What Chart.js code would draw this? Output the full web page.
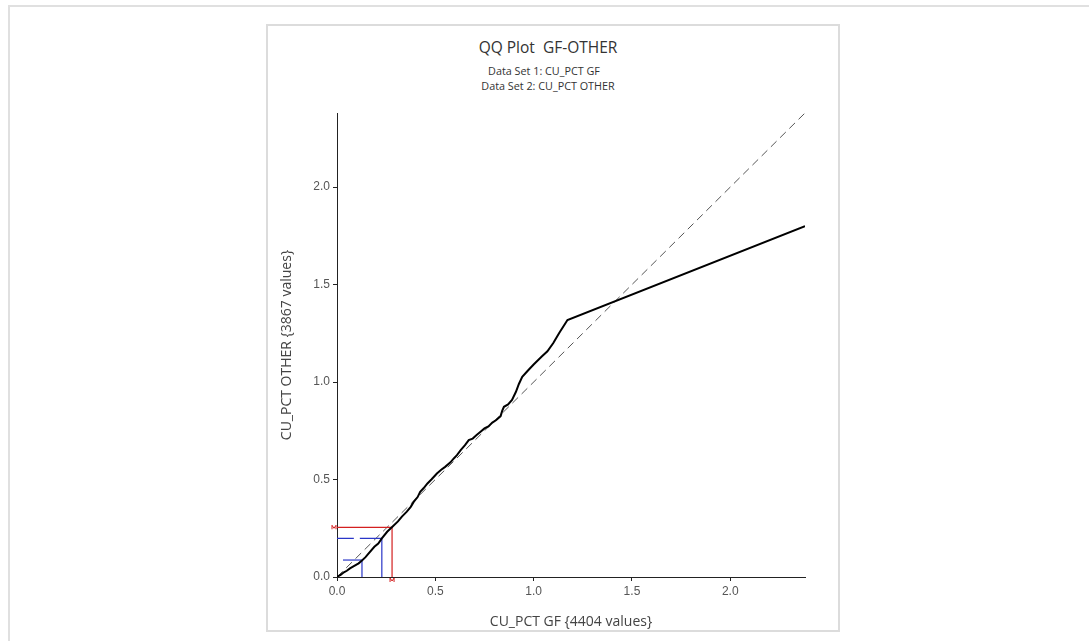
<!DOCTYPE html>
<html>
<head>
<meta charset="utf-8">
<script src="https://cdn.jsdelivr.net/npm/chart.js@4/dist/chart.umd.min.js"></script>
<style>
  html, body { margin: 0; padding: 0; background: #fff; width: 1089px; height: 641px; overflow: hidden; }
  #frameTop { position: absolute; left: 9px; top: 5px; width: 1080px; height: 0; border-top: 2px solid #e0e0e0; }
  #frameLeft { position: absolute; left: 8px; top: 5px; width: 0; height: 636px; border-left: 2px solid #e0e0e0; }
  #panel { position: absolute; left: 266px; top: 24px; width: 570px; height: 604px; border: 2px solid #dcdcdc; }
  .t { position: absolute; left: 266px; width: 572px; text-align: center; font-family: "Open Sans", sans-serif; color: #333; white-space: pre; }
  #title { top: 36px; font-size: 15.5px; left: 262px; }
  #sub1 { top: 63px; font-size: 10.8px; left: 258px; }
  #sub2 { top: 78px; font-size: 10.8px; left: 262px; }
  canvas { position: absolute; left: 0; top: 0; }
</style>
</head>
<body>
<div id="frameTop"></div>
<div id="frameLeft"></div>
<div id="panel"></div>
<div class="t" id="title">QQ Plot  GF-OTHER</div>
<div class="t" id="sub1">Data Set 1: CU_PCT GF</div>
<div class="t" id="sub2">Data Set 2: CU_PCT OTHER</div>
<canvas id="c" width="1089" height="641"></canvas>
<script>
// Quantiles of CU_PCT GF (x) vs CU_PCT OTHER (y)
const qqX = [0, 0.02, 0.035, 0.05, 0.066, 0.09, 0.11, 0.127, 0.145, 0.16, 0.19, 0.21, 0.228, 0.255, 0.279, 0.31, 0.33, 0.355, 0.375, 0.39, 0.41, 0.423, 0.44, 0.46, 0.48, 0.508, 0.53, 0.55, 0.577, 0.594, 0.61, 0.63, 0.65, 0.67, 0.69, 0.71, 0.73, 0.75, 0.77, 0.79, 0.81, 0.832, 0.84, 0.849, 0.87, 0.89, 0.91, 0.925, 0.942, 0.97, 1.0, 1.04, 1.07, 1.10, 1.13, 1.172, 2.38];
const qqY = [0, 0.012, 0.024, 0.032, 0.044, 0.058, 0.07, 0.085, 0.102, 0.12, 0.155, 0.172, 0.198, 0.232, 0.255, 0.285, 0.31, 0.335, 0.36, 0.385, 0.41, 0.437, 0.455, 0.48, 0.5, 0.531, 0.55, 0.565, 0.588, 0.608, 0.625, 0.652, 0.675, 0.702, 0.71, 0.728, 0.745, 0.762, 0.772, 0.792, 0.805, 0.825, 0.852, 0.873, 0.885, 0.908, 0.95, 0.99, 1.027, 1.058, 1.09, 1.13, 1.158, 1.2, 1.252, 1.318, 1.80];
const refX = [0, 2.38];
const refY = [0, 2.38];
// Red marker lines (upper quantile)
const redX = [0.28, 0.28];
const redY = [0.255, 0.255];
// Blue dashed marker lines
const blueX = [0.228, 0.127];
const blueY = [0.198, 0.087];
const axisMax = 2.38;
const tickValues = [0, 0.5, 1.0, 1.5, 2.0];

const pts = (xs, ys) => xs.map((x, i) => ({ x: x, y: ys[i] }));

const datasets = [
  { data: pts(refX, refY), borderColor: '#555', borderWidth: 1, borderDash: [8, 5], pointRadius: 0, order: 3 },
  { data: [{ x: 0, y: redY[0] }, { x: redX[0], y: redY[0] }, { x: redX[0], y: 0 }], borderColor: '#d42020', borderWidth: 1.2, pointRadius: 0, order: 2 },
  { data: [{ x: blueX[0], y: blueY[0] }, { x: 0, y: blueY[0] }], borderColor: '#2a36c8', borderWidth: 1.2, borderDash: [22, 6], pointRadius: 0, order: 2 },
  { data: [{ x: blueX[0], y: blueY[0] }, { x: blueX[0], y: 0 }], borderColor: '#2a36c8', borderWidth: 1.2, pointRadius: 0, order: 2 },
  { data: [{ x: blueX[1], y: blueY[1] }, { x: 0, y: blueY[1] }], borderColor: '#2a36c8', borderWidth: 1.2, borderDash: [19, 6], pointRadius: 0, order: 2 },
  { data: [{ x: blueX[1], y: blueY[1] }, { x: blueX[1], y: 0 }], borderColor: '#2a36c8', borderWidth: 1.2, pointRadius: 0, order: 2 },
  { data: pts(qqX, qqY), borderColor: '#000', borderWidth: 2, pointRadius: 0, tension: 0, order: 1 }
];

const markers = {
  id: 'markers',
  afterDatasetsDraw(chart) {
    const { ctx, scales } = chart;
    const xs = scales.x, ys = scales.y;
    ctx.save();
    ctx.strokeStyle = '#d42020';
    ctx.lineWidth = 1;
    const my = ys.getPixelForValue(redY[0]);
    const lx = xs.getPixelForValue(0) - 5;
    ctx.beginPath();
    ctx.moveTo(lx, my + 2); ctx.lineTo(lx, my - 2); ctx.lineTo(lx + 2, my + 1); ctx.lineTo(lx + 4, my - 2); ctx.lineTo(lx + 4, my + 2);
    ctx.stroke();
    const mx = xs.getPixelForValue(redX[0]);
    const by = ys.getPixelForValue(0) + 1;
    ctx.beginPath();
    ctx.moveTo(mx - 2, by + 4); ctx.lineTo(mx - 2, by); ctx.lineTo(mx, by + 3); ctx.lineTo(mx + 2, by); ctx.lineTo(mx + 2, by + 4);
    ctx.stroke();
    ctx.restore();
  }
};

const tickFont = { family: 'Liberation Sans', size: 12 };
const titleFont = { family: 'Open Sans', size: 14 };

new Chart(document.getElementById('c'), {
  type: 'line',
  data: { datasets: datasets },
  plugins: [markers],
  options: {
    responsive: false,
    animation: false,
    devicePixelRatio: 1,
    layout: { padding: { left: 277, right: 284, top: 113, bottom: 10 } },
    plugins: { legend: { display: false }, tooltip: { enabled: false }, title: { display: false } },
    scales: {
      x: {
        type: 'linear', min: 0, max: axisMax,
        afterFit: s => { s.height = 54; },
        afterBuildTicks: s => { s.ticks = tickValues.map(v => ({ value: v })); },
        ticks: { font: tickFont, color: '#555', padding: 3, maxRotation: 0, callback: v => Number(v).toFixed(1) },
        grid: { drawOnChartArea: false, drawTicks: true, tickLength: 4, color: '#222' },
        border: { display: true, color: '#222', width: 1 },
        title: { display: true, text: 'CU_PCT GF {4404 values}', font: titleFont, color: '#444', padding: { top: 2, bottom: 1 } }
      },
      y: {
        type: 'linear', min: 0, max: axisMax,
        afterFit: s => { s.width = 60; },
        afterBuildTicks: s => { s.ticks = tickValues.map(v => ({ value: v })); },
        ticks: { font: tickFont, color: '#555', padding: 3, callback: v => Number(v).toFixed(1) },
        grid: { drawOnChartArea: false, drawTicks: true, tickLength: 4, color: '#222' },
        border: { display: true, color: '#222', width: 1 },
        title: { display: true, text: 'CU_PCT OTHER {3867 values}', font: titleFont, color: '#444', padding: { top: 2, bottom: 2 } }
      }
    }
  }
});
</script>
</body>
</html>
